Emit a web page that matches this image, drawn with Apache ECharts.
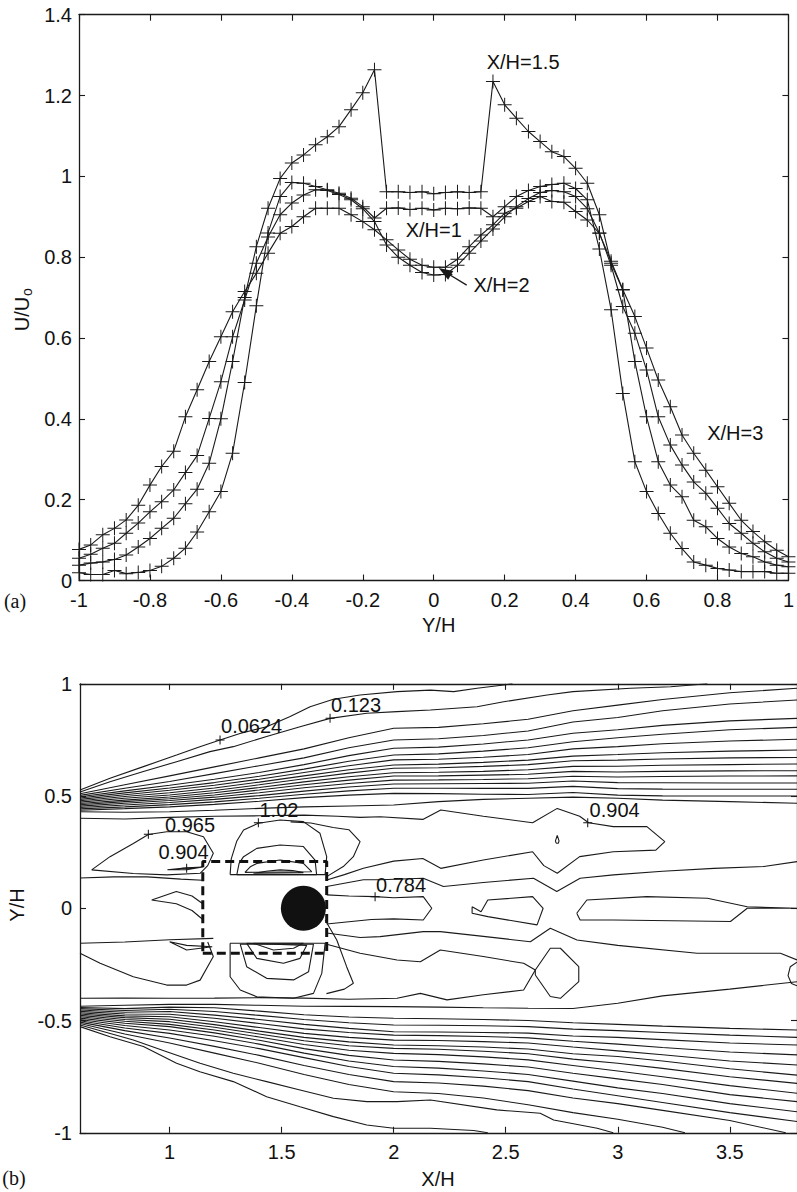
<!DOCTYPE html>
<html><head><meta charset="utf-8">
<script src="https://cdn.jsdelivr.net/npm/echarts@6/dist/echarts.min.js"></script>
<style>html,body{margin:0;padding:0;background:#fff}#c{width:797px;height:1192px}</style>
</head><body><div id="c"></div>
<script>
// ================= Panel (a) data =================
const yOverH = [-1.000,-0.967,-0.933,-0.900,-0.867,-0.833,-0.800,-0.767,-0.733,-0.700,-0.667,-0.633,-0.600,-0.567,-0.533,-0.500,-0.467,-0.433,-0.400,-0.367,-0.333,-0.300,-0.267,-0.233,-0.200,-0.167,-0.133,-0.100,-0.067,-0.033,0,0.033,0.067,0.100,0.133,0.167,0.200,0.233,0.267,0.300,0.333,0.367,0.400,0.433,0.467,0.500,0.533,0.567,0.600,0.633,0.667,0.700,0.733,0.767,0.800,0.833,0.867,0.900,0.933,0.967,1.000];
const uXH1 = [0.019,0.015,0.015,0.025,0.017,0.020,0.025,0.035,0.055,0.080,0.120,0.170,0.220,0.315,
  0.490,0.680,0.860,0.950,0.985,0.983,0.975,0.967,0.958,0.946,0.925,0.897,
  0.921,0.922,0.918,0.921,0.917,0.921,0.920,0.922,0.921,
  0.900,0.925,0.950,0.965,0.975,0.980,0.983,0.970,0.942,0.820,0.670,0.463,0.294,
  0.220,0.166,0.117,0.079,0.046,0.038,0.030,0.026,0.022,0.022,0.022,0.018,0.018];
const uXH15 = [0.038,0.043,0.046,0.052,0.063,0.083,0.104,0.129,0.154,0.190,0.226,0.290,0.400,0.542,
  0.700,0.826,0.921,0.995,1.033,1.053,1.078,1.098,1.123,1.165,1.207,1.264,
  0.962,0.962,0.960,0.962,0.957,0.960,0.962,0.960,0.962,
  1.235,1.177,1.144,1.111,1.086,1.061,1.049,1.020,0.983,0.905,0.785,0.719,0.542,
  0.405,0.294,0.236,0.207,0.149,0.133,0.104,0.083,0.067,0.059,0.046,0.038,0.034];
const uXH2 = [0.055,0.065,0.080,0.092,0.117,0.142,0.170,0.195,0.224,0.267,0.309,0.401,0.492,0.603,
  0.694,0.785,0.850,0.905,0.934,0.954,0.967,0.965,0.955,0.942,0.920,0.888,
  0.830,0.800,0.780,0.762,0.756,0.757,0.780,0.810,0.840,
  0.870,0.900,0.925,0.945,0.960,0.965,0.962,0.950,0.920,0.860,0.780,0.678,0.612,
  0.521,0.405,0.335,0.286,0.244,0.216,0.179,0.141,0.117,0.092,0.071,0.055,0.046];
const uXH3 = [0.077,0.088,0.113,0.129,0.150,0.186,0.236,0.282,0.320,0.405,0.472,0.542,0.603,0.665,
  0.715,0.760,0.810,0.859,0.876,0.900,0.921,0.921,0.921,0.905,0.888,0.868,
  0.843,0.818,0.795,0.780,0.775,0.775,0.795,0.826,0.855,
  0.880,0.909,0.921,0.938,0.950,0.938,0.936,0.913,0.892,0.859,0.790,0.720,0.653,
  0.575,0.496,0.430,0.360,0.315,0.273,0.232,0.191,0.149,0.121,0.096,0.075,0.059];
const curveLabels = [[0.252,1.283,'X/H=1.5'],[0.0,0.868,'X/H=1'],[0.191,0.730,'X/H=2'],[0.85,0.366,'X/H=3']];
const arrowFrom = [0.093,0.731];
const arrowTo = [0.031,0.764];

// ================= Panel (b) data =================
const fanX = [0.6,0.8,1.0,1.2,1.4,1.6,1.8,2.0,2.2,2.4,2.6,2.8,3.0,3.2,3.5,3.8];
// upper shear layer (y at fanX)
const up3  = [0.510,0.550,0.590,0.630,0.670,0.710,0.760,0.802,0.806,0.822,0.842,0.880,0.905,0.930,0.960,0.980];
const up4  = [0.503,0.535,0.565,0.600,0.635,0.670,0.715,0.750,0.755,0.770,0.790,0.830,0.850,0.880,0.910,0.928];
const up5  = [0.497,0.523,0.548,0.575,0.605,0.640,0.680,0.713,0.718,0.732,0.750,0.780,0.795,0.815,0.835,0.846];
const up6  = [0.491,0.514,0.536,0.560,0.588,0.620,0.655,0.683,0.688,0.700,0.715,0.742,0.760,0.775,0.795,0.806];
const up7  = [0.485,0.506,0.526,0.548,0.575,0.605,0.635,0.661,0.664,0.673,0.685,0.710,0.720,0.733,0.745,0.753];
const up8  = [0.479,0.498,0.515,0.536,0.562,0.590,0.617,0.638,0.642,0.650,0.660,0.678,0.685,0.693,0.700,0.705];
const up9  = [0.473,0.490,0.505,0.525,0.550,0.577,0.602,0.624,0.626,0.632,0.640,0.657,0.660,0.665,0.670,0.672];
const up10 = [0.467,0.482,0.496,0.515,0.538,0.563,0.586,0.604,0.606,0.610,0.617,0.632,0.633,0.637,0.640,0.643];
const up11 = [0.461,0.475,0.488,0.505,0.527,0.550,0.571,0.589,0.590,0.593,0.597,0.610,0.607,0.610,0.612,0.613];
const up12 = [0.455,0.468,0.480,0.495,0.515,0.537,0.556,0.571,0.572,0.574,0.577,0.588,0.585,0.587,0.589,0.590];
const up13 = [0.449,0.460,0.471,0.485,0.502,0.522,0.540,0.554,0.555,0.556,0.557,0.567,0.560,0.559,0.558,0.558];
const up14 = [0.443,0.452,0.462,0.474,0.490,0.508,0.523,0.535,0.535,0.534,0.534,0.543,0.533,0.531,0.530,0.530];
const up15 = [0.437,0.444,0.452,0.463,0.477,0.493,0.504,0.512,0.511,0.508,0.507,0.516,0.504,0.501,0.500,0.500];
const up16 = [0.430,0.428,0.430,0.437,0.445,0.452,0.456,0.460,0.475,0.485,0.490,0.495,0.490,0.482,0.475,0.468];
// lower shear layer (y at fanX)
const lo5  = [-0.501,-0.533,-0.557,-0.590,-0.625,-0.665,-0.705,-0.735,-0.742,-0.755,-0.772,-0.805,-0.835,-0.865,-0.910,-0.950];
const lo6  = [-0.495,-0.522,-0.542,-0.570,-0.605,-0.645,-0.680,-0.705,-0.712,-0.725,-0.740,-0.770,-0.800,-0.825,-0.870,-0.906];
const lo7  = [-0.489,-0.512,-0.527,-0.555,-0.588,-0.625,-0.655,-0.676,-0.682,-0.693,-0.707,-0.735,-0.760,-0.785,-0.830,-0.861];
const lo8  = [-0.483,-0.503,-0.517,-0.542,-0.573,-0.607,-0.632,-0.646,-0.652,-0.662,-0.675,-0.700,-0.725,-0.750,-0.790,-0.824];
const lo9  = [-0.477,-0.495,-0.505,-0.530,-0.560,-0.590,-0.612,-0.624,-0.628,-0.637,-0.648,-0.672,-0.690,-0.713,-0.750,-0.780];
const lo10 = [-0.471,-0.487,-0.494,-0.518,-0.547,-0.575,-0.595,-0.609,-0.612,-0.618,-0.627,-0.648,-0.660,-0.680,-0.715,-0.743];
const lo11 = [-0.465,-0.479,-0.483,-0.505,-0.531,-0.557,-0.575,-0.587,-0.589,-0.594,-0.600,-0.618,-0.635,-0.652,-0.680,-0.698];
const lo12 = [-0.459,-0.471,-0.472,-0.490,-0.513,-0.537,-0.553,-0.565,-0.567,-0.571,-0.577,-0.592,-0.605,-0.620,-0.640,-0.653];
const lo13 = [-0.453,-0.463,-0.460,-0.476,-0.495,-0.517,-0.535,-0.550,-0.551,-0.553,-0.556,-0.569,-0.575,-0.585,-0.600,-0.609];
const lo14 = [-0.447,-0.455,-0.450,-0.460,-0.477,-0.495,-0.510,-0.520,-0.521,-0.523,-0.527,-0.538,-0.545,-0.553,-0.565,-0.575];
const lo15 = [-0.442,-0.447,-0.440,-0.443,-0.458,-0.474,-0.484,-0.490,-0.492,-0.495,-0.500,-0.510,-0.517,-0.525,-0.535,-0.542];
const lo16 = [-0.436,-0.432,-0.428,-0.428,-0.432,-0.436,-0.437,-0.438,-0.440,-0.443,-0.445,-0.446,-0.423,-0.390,-0.360,-0.327];
// lines given as explicit [x, y] points
const up1 = [[0.6,0.527],[0.734,0.579],[0.883,0.631],[1.031,0.683],[1.135,0.72],[1.225,0.75],[1.314,0.779],[1.433,0.809],[1.538,0.854],[1.627,0.898],[1.731,0.931],[1.85,0.95],[2.015,0.965],[2.164,0.972],[2.268,0.965],[2.372,0.98],[2.491,0.995],[2.53,1.0]];
const up2 = [[0.6,0.518],[0.734,0.564],[0.883,0.609],[1.031,0.653],[1.18,0.698],[1.284,0.72],[1.433,0.765],[1.582,0.809],[1.716,0.846],[1.88,0.869],[2.015,0.876],[2.164,0.883],[2.372,0.898],[2.491,0.92],[2.685,0.95],[2.8,0.965],[3.057,0.98],[3.236,0.987],[3.4,1.0]];
const lo1 = [[0.6,-0.527],[0.734,-0.572],[0.883,-0.616],[1.031,-0.69],[1.135,-0.728],[1.284,-0.772],[1.433,-0.839],[1.582,-0.884],[1.731,-0.928],[1.88,-0.965],[2.0,-0.98],[2.164,-0.98],[2.357,-0.99],[2.42,-1.0]];
const lo2 = [[0.6,-0.52],[0.838,-0.587],[0.987,-0.639],[1.136,-0.69],[1.284,-0.735],[1.433,-0.772],[1.582,-0.809],[1.731,-0.846],[1.88,-0.861],[2.015,-0.861],[2.164,-0.854],[2.46,-0.898],[2.654,-0.913],[2.714,-0.943],[2.908,-0.98],[2.98,-1.0]];
const lo3 = [[0.6,-0.513],[0.8,-0.56],[1.0,-0.60],[1.2,-0.645],[1.4,-0.69],[1.6,-0.74],[1.8,-0.785],[2.0,-0.817],[2.2,-0.825],[2.4,-0.845],[2.6,-0.875],[2.8,-0.91],[3.0,-0.94],[3.2,-0.975],[3.3,-1.0]];
const lo4 = [[0.6,-0.507],[0.8,-0.545],[1.0,-0.578],[1.2,-0.615],[1.4,-0.655],[1.6,-0.70],[1.8,-0.74],[2.0,-0.772],[2.2,-0.778],[2.4,-0.792],[2.6,-0.812],[2.8,-0.845],[3.0,-0.87],[3.2,-0.9],[3.5,-0.945],[3.75,-1.0]];
const loop904Upper = [[0.6,0.401],[0.8,0.398],[1.0,0.405],[1.2,0.41],[1.4,0.412],[1.6,0.415],[1.75,0.41],[1.85,0.405],[1.94,0.408],[2.13,0.396],[2.21,0.438],[2.4,0.41],[2.62,0.381],[2.73,0.445],[2.83,0.41],[2.87,0.381],[2.98,0.364],[3.13,0.364],[3.21,0.297],[3.17,0.259],[2.98,0.252],[2.83,0.23],[2.73,0.156],[2.67,0.19],[2.62,0.252],[2.4,0.215],[2.21,0.178],[2.13,0.222],[2.0,0.21],[1.865,0.178],[1.78,0.15],[1.701,0.126]];
const lineUpperWake = [[1.701,0.097],[1.865,0.127],[1.939,0.127],[2.132,0.134],[2.222,0.097],[2.4,0.115],[2.624,0.134],[2.728,0.075],[2.832,0.134],[2.981,0.149],[3.2,0.165],[3.429,0.178],[3.652,0.186],[3.8,0.208]];
const loop784 = [[1.701,0.06],[1.8,0.055],[1.917,0.052],[2.0,0.047],[2.132,0.052],[2.17,0.0],[2.132,-0.052],[2.0,-0.047],[1.9,-0.05],[1.8,-0.06],[1.701,-0.07]];
const loopA = [[2.35,0.007],[2.39,-0.015],[2.42,0.037],[2.62,0.052],[2.667,0.0],[2.64,-0.074],[2.42,-0.037],[2.35,-0.022],[2.35,0.007]];
const loopB = [[2.817,-0.022],[2.862,0.037],[3.13,0.052],[3.4,0.045],[3.578,0.007],[3.8,0.0],[3.578,0.0],[3.503,-0.059],[2.981,-0.052],[2.832,-0.052],[2.817,-0.022]];
const lineLowerWake = [[1.701,-0.11],[1.85,-0.13],[1.939,-0.126],[2.132,-0.104],[2.208,-0.104],[2.4,-0.125],[2.61,-0.149],[2.699,-0.089],[2.818,-0.141],[3.0,-0.165],[3.354,-0.2],[3.6,-0.2],[3.726,-0.2],[3.8,-0.23]];
const loop904Lower = [[0.6,-0.401],[0.8,-0.40],[1.0,-0.401],[1.2,-0.40],[1.4,-0.398],[1.6,-0.40],[1.8,-0.405],[2.015,-0.401],[2.119,-0.379],[2.238,-0.408],[2.4,-0.385],[2.58,-0.364],[2.632,-0.275],[2.58,-0.245],[2.4,-0.215],[2.208,-0.186],[2.119,-0.238],[2.015,-0.23],[1.85,-0.2],[1.701,-0.16]];
const loopF = [[2.632,-0.297],[2.632,-0.275],[2.699,-0.178],[2.744,-0.178],[2.826,-0.26],[2.826,-0.327],[2.744,-0.401],[2.699,-0.393],[2.632,-0.297]];
const loopEdge = [[3.8,-0.24],[3.77,-0.26],[3.76,-0.3],[3.775,-0.335],[3.8,-0.345]];
const dropUpper = [[2.725,0.29],[2.735,0.29],[2.738,0.3],[2.73,0.325],[2.722,0.3],[2.725,0.29]];
const lens965 = [[0.652,0.171],[0.734,0.23],[0.838,0.289],[0.905,0.329],[0.987,0.341],[1.076,0.341],[1.151,0.319],[1.195,0.245],[1.17,0.19],[1.136,0.156],[0.987,0.149],[0.838,0.155],[0.652,0.171]];
const lens904 = [[0.99,0.172],[1.076,0.18],[1.148,0.184],[1.076,0.172],[0.99,0.172]];
const lineLeftUpper = [[0.6,0.135],[0.75,0.14],[0.9,0.14],[1.05,0.13],[1.148,0.125]];
const spikeLeft = [[1.148,0.02],[1.1,0.055],[1.03,0.075],[0.92,0.037],[1.03,0.02],[1.1,-0.01],[1.148,-0.05]];
const lineLeftLower = [[0.6,-0.156],[0.8,-0.15],[1.0,-0.14],[1.195,-0.134]];
const lensLower = [[1.0,-0.149],[1.076,-0.186],[1.19,-0.171],[1.076,-0.165],[1.0,-0.149]];
const curveLowerLeft = [[0.6,-0.2],[0.69,-0.245],[0.838,-0.305],[0.987,-0.342],[1.076,-0.342],[1.136,-0.32],[1.195,-0.215],[1.17,-0.15]];
const bubbleUp1 = [[1.27,0.15],[1.275,0.22],[1.3,0.3],[1.33,0.349],[1.396,0.379],[1.493,0.393],[1.597,0.386],[1.671,0.334],[1.701,0.23],[1.694,0.15],[1.27,0.15]];
const bubbleUp2 = [[1.30,0.15],[1.31,0.2],[1.33,0.23],[1.389,0.267],[1.493,0.282],[1.597,0.275],[1.649,0.215],[1.656,0.15],[1.30,0.15]];
const bubbleUp3 = [[1.336,0.16],[1.36,0.185],[1.389,0.2],[1.493,0.215],[1.597,0.2],[1.634,0.163],[1.336,0.16]];
const bubbleUp4 = [[1.374,0.156],[1.43,0.165],[1.493,0.171],[1.55,0.168],[1.597,0.159],[1.374,0.156]];
const outerUp = [[1.54,0.385],[1.63,0.38],[1.73,0.36],[1.80,0.35],[1.85,0.297],[1.82,0.23],[1.775,0.186],[1.701,0.141]];
const bubbleLo1 = [[1.27,-0.156],[1.27,-0.305],[1.315,-0.364],[1.389,-0.394],[1.553,-0.401],[1.642,-0.379],[1.679,-0.29],[1.694,-0.156],[1.27,-0.156]];
const bubbleLo2 = [[1.315,-0.16],[1.344,-0.26],[1.433,-0.312],[1.553,-0.319],[1.62,-0.283],[1.642,-0.16],[1.315,-0.16]];
const bubbleLo3 = [[1.344,-0.156],[1.389,-0.223],[1.508,-0.245],[1.582,-0.223],[1.612,-0.165],[1.344,-0.156]];
const bubbleLo4 = [[1.374,-0.156],[1.463,-0.186],[1.553,-0.178],[1.597,-0.156],[1.374,-0.156]];
const outerLo = [[1.694,-0.052],[1.746,-0.141],[1.79,-0.26],[1.82,-0.334],[1.78,-0.36],[1.70,-0.38]];
const rectX = [1.148, 1.701];
const rectY = [-0.2, 0.208];
const cylinder = [1.597, 0.0];
const contourMarks = [[1.225,0.75],[1.716,0.846],[1.396,0.381],[0.905,0.33],[1.076,0.178],[1.917,0.052],[2.866,0.381]];
const contourTexts = [[1.366,0.810,'0.0624'],[1.832,0.906,'0.123'],[1.488,0.44,'1.02'],[1.091,0.369,'0.965'],[1.062,0.253,'0.904'],[2.033,0.106,'0.784'],[2.986,0.44,'0.904']];
const xTicksB = [1, 1.5, 2, 2.5, 3, 3.5];

// ================= build =================
const INK = '#1a1a1a';
const TXT = '#111';
const FONT = 'Liberation Sans';
const FS = 20;
const PLUS = 'path://M0,6.5L14,6.5L14,7.5L0,7.5Z M6.5,0L7.5,0L7.5,14L6.5,14Z';
const chart = echarts.init(document.getElementById('c'), null, {renderer: 'svg'});

function ax(extra) {
  const base = {
    type: 'value', splitLine: {show: false},
    axisLine: {show: true, onZero: false, lineStyle: {color: INK, width: 1.3}},
    axisTick: {show: true, inside: true, length: 6, lineStyle: {color: INK, width: 1.1}},
    axisLabel: {show: true, color: TXT, fontFamily: FONT, fontSize: FS, showMinLabel: true, showMaxLabel: true}
  };
  const out = Object.assign({}, base, extra);
  if (extra.axisTick) out.axisTick = Object.assign({}, base.axisTick, extra.axisTick);
  if (extra.axisLabel) out.axisLabel = Object.assign({}, base.axisLabel, extra.axisLabel);
  return out;
}

const series = [];
[uXH1, uXH15, uXH2, uXH3].forEach((vals, k) => {
  series.push({
    type: 'line', xAxisIndex: 0, yAxisIndex: 0, name: 'c' + k,
    data: yOverH.map((y, i) => [y, vals[i]]),
    symbol: PLUS, symbolSize: 14, showSymbol: true,
    lineStyle: {color: INK, width: 1.1}, itemStyle: {color: INK, opacity: 1},
    animation: false, silent: true, z: 3
  });
});
series.push({
  type: 'scatter', xAxisIndex: 0, yAxisIndex: 0,
  data: curveLabels.map(d => ({value: [d[0], d[1]], name: d[2]})),
  symbol: 'circle', symbolSize: 1, itemStyle: {color: 'rgba(0,0,0,0)', opacity: 1},
  label: {show: true, position: 'inside', formatter: p => p.name, color: TXT, fontFamily: FONT, fontSize: FS, textBorderWidth: 0},
  markLine: {
    silent: true, animation: false, symbol: ['none', 'triangle'], symbolSize: [10, 14],
    lineStyle: {color: INK, width: 1.3, type: 'solid', opacity: 1}, itemStyle: {color: INK},
    label: {show: false},
    data: [[{coord: arrowFrom}, {coord: arrowTo}]]
  },
  animation: false, silent: true, z: 5
});

const contourList = [up1, up2, lo1, lo2, lo3, lo4];
[up3, up4, up5, up6, up7, up8, up9, up10, up11, up12, up13, up14, up15, up16,
 lo5, lo6, lo7, lo8, lo9, lo10, lo11, lo12, lo13, lo14, lo15, lo16].forEach(arr => {
  contourList.push(fanX.map((x, i) => [x, arr[i]]));
});
[loop904Upper, lineUpperWake, loop784, loopA, loopB, lineLowerWake, loop904Lower, loopF, loopEdge, dropUpper,
 lens965, lens904, lineLeftUpper, spikeLeft, lineLeftLower, lensLower, curveLowerLeft,
 bubbleUp1, bubbleUp2, bubbleUp3, bubbleUp4, outerUp, bubbleLo1, bubbleLo2, bubbleLo3, bubbleLo4, outerLo
].forEach(a => contourList.push(a));

contourList.forEach(pts => {
  series.push({
    type: 'line', xAxisIndex: 2, yAxisIndex: 2, data: pts, symbol: 'none', showSymbol: false,
    lineStyle: {color: INK, width: 1.1}, animation: false, silent: true, z: 2, clip: true
  });
});
// dashed rectangle
series.push({
  type: 'line', xAxisIndex: 2, yAxisIndex: 2,
  data: [[rectX[0], rectY[0]], [rectX[1], rectY[0]], [rectX[1], rectY[1]], [rectX[0], rectY[1]], [rectX[0], rectY[0]]],
  symbol: 'none', lineStyle: {color: '#111', width: 3, type: [9, 5]}, animation: false, silent: true, z: 4
});
// cylinder
series.push({
  type: 'scatter', xAxisIndex: 2, yAxisIndex: 2, data: [cylinder], symbol: 'circle', symbolSize: 45,
  itemStyle: {color: '#111', opacity: 1}, animation: false, silent: true, z: 5
});
// contour label markers
series.push({
  type: 'scatter', xAxisIndex: 2, yAxisIndex: 2, data: contourMarks, symbol: 'path://M0,4L9,4L9,5L0,5Z M4,0L5,0L5,9L4,9Z',
  symbolSize: 9, itemStyle: {color: '#111', opacity: 1}, animation: false, silent: true, z: 6
});
series.push({
  type: 'scatter', xAxisIndex: 2, yAxisIndex: 2,
  data: contourTexts.map(d => ({value: [d[0], d[1]], name: d[2]})),
  symbol: 'circle', symbolSize: 1, itemStyle: {color: 'rgba(0,0,0,0)', opacity: 1},
  label: {show: true, position: 'inside', formatter: p => p.name, color: TXT, fontFamily: FONT, fontSize: FS, textBorderWidth: 0},
  animation: false, silent: true, z: 6
});

const option = {
  backgroundColor: '#fff',
  animation: false,
  grid: [
    {left: 79, top: 14.7, width: 719.4, height: 565.8},
    {left: 80, top: 683.8, width: 718, height: 449}
  ],
  xAxis: [
    ax({gridIndex: 0, min: -1, max: 1, interval: 0.2, position: 'bottom', axisLabel: {margin: 9}}),
    ax({gridIndex: 0, min: -1, max: 1, interval: 0.2, position: 'top', axisLabel: {show: false}}),
    ax({gridIndex: 1, min: 0.6, max: 3.8, position: 'bottom', axisTick: {customValues: xTicksB}, axisLabel: {customValues: xTicksB, margin: 9}}),
    ax({gridIndex: 1, min: 0.6, max: 3.8, position: 'top', axisTick: {customValues: xTicksB}, axisLabel: {show: false}})
  ],
  yAxis: [
    ax({gridIndex: 0, min: 0, max: 1.4, interval: 0.2, position: 'left', axisLabel: {margin: 7}}),
    ax({gridIndex: 0, min: 0, max: 1.4, interval: 0.2, position: 'right', axisLabel: {show: false}}),
    ax({gridIndex: 1, min: -1, max: 1, interval: 0.5, position: 'left', axisLabel: {margin: 8}}),
    ax({gridIndex: 1, min: -1, max: 1, interval: 0.5, position: 'right', axisLabel: {show: false}})
  ],
  graphic: [
    {type: 'text', x: 22, y: 314, rotation: Math.PI / 2, style: {text: 'U/U', font: FS + 'px "Liberation Sans"', fill: TXT, align: 'center', verticalAlign: 'middle'}},
    {type: 'text', x: 27, y: 292, rotation: Math.PI / 2, style: {text: 'o', font: '14px "Liberation Sans"', fill: TXT, align: 'center', verticalAlign: 'middle'}},
    {type: 'text', x: 438.7, y: 625, style: {text: 'Y/H', font: FS + 'px "Liberation Sans"', fill: TXT, align: 'center', verticalAlign: 'middle'}},
    {type: 'text', x: 15, y: 601, style: {text: '(a)', font: FS + 'px "Liberation Serif"', fill: TXT, align: 'center', verticalAlign: 'middle'}},
    {type: 'text', x: 17, y: 905, rotation: Math.PI / 2, style: {text: 'Y/H', font: FS + 'px "Liberation Sans"', fill: TXT, align: 'center', verticalAlign: 'middle'}},
    {type: 'text', x: 438, y: 1179, style: {text: 'X/H', font: FS + 'px "Liberation Sans"', fill: TXT, align: 'center', verticalAlign: 'middle'}},
    {type: 'text', x: 14, y: 1178, style: {text: '(b)', font: FS + 'px "Liberation Serif"', fill: TXT, align: 'center', verticalAlign: 'middle'}}
  ],
  series: series
};
chart.setOption(option);
</script>
</body></html>
